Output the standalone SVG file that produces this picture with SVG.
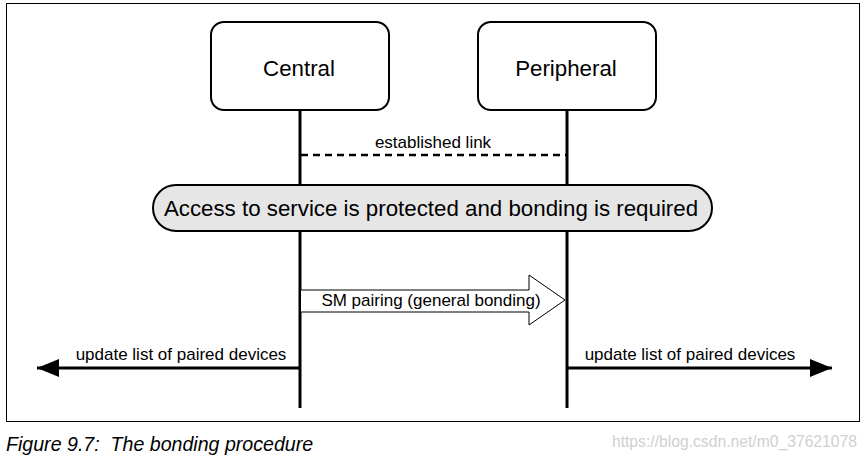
<svg xmlns="http://www.w3.org/2000/svg" width="866" height="460" viewBox="0 0 866 460">
<style>
text{font-family:"Liberation Sans",Arial,sans-serif;fill:#000}
.box{fill:#fff;stroke:#000;stroke-width:2}
.life{stroke:#000;stroke-width:3;fill:none}
.lbl{font-size:17px}
.big{font-size:22.3px}
</style>
<defs>
<marker id="ah" markerWidth="24" markerHeight="20" refX="22" refY="10" orient="auto" markerUnits="userSpaceOnUse">
<path d="M0,1 L22,10 L0,19 Z" fill="#000"/>
</marker>
</defs>
<rect x="0" y="0" width="866" height="460" fill="#fff"/>
<rect x="6.5" y="3.5" width="853" height="418" fill="none" stroke="#000" stroke-width="1"/>
<g id="connectors">
<line class="life" x1="300" y1="110" x2="300" y2="408"/>
<line class="life" x1="567" y1="110" x2="567" y2="408"/>
<line x1="301" y1="155" x2="566" y2="155" stroke="#000" stroke-width="2.5" stroke-dasharray="7,5"/>
<text class="lbl" x="433" y="148" text-anchor="middle">established link</text>
<path d="M301,290 H529 V275 L565,300 L529,325 V312 H301" fill="#fff" stroke="#000" stroke-width="1"/>
<text class="lbl" x="431" y="306" text-anchor="middle">SM pairing (general bonding)</text>
<line x1="299" y1="368" x2="37" y2="368" stroke="#000" stroke-width="3" marker-end="url(#ah)"/>
<text class="lbl" x="181" y="360" text-anchor="middle">update list of paired devices</text>
<line x1="568" y1="368" x2="832" y2="368" stroke="#000" stroke-width="3" marker-end="url(#ah)"/>
<text class="lbl" x="690" y="360" text-anchor="middle">update list of paired devices</text>
</g>
<g id="central">
<rect class="box" x="211" y="22" width="178" height="88" rx="13"/>
<text class="big" x="299" y="76" text-anchor="middle">Central</text>
</g>
<g id="peripheral">
<rect class="box" x="478" y="22" width="178" height="88" rx="13"/>
<text class="big" x="566" y="76" text-anchor="middle">Peripheral</text>
</g>
<g id="condition">
<rect x="153" y="185" width="559" height="46" rx="23" fill="#e6e6e6" stroke="#000" stroke-width="2"/>
<text class="big" x="431" y="216" text-anchor="middle">Access to service is protected and bonding is required</text>
</g>
<text x="6" y="451" font-size="19.6" font-style="italic" xml:space="preserve">Figure 9.7:  The bonding procedure</text>
<text x="857" y="447" font-size="15.7" text-anchor="end" style="fill:#d0d0d0">https://blog.csdn.net/m0_37621078</text>
</svg>
